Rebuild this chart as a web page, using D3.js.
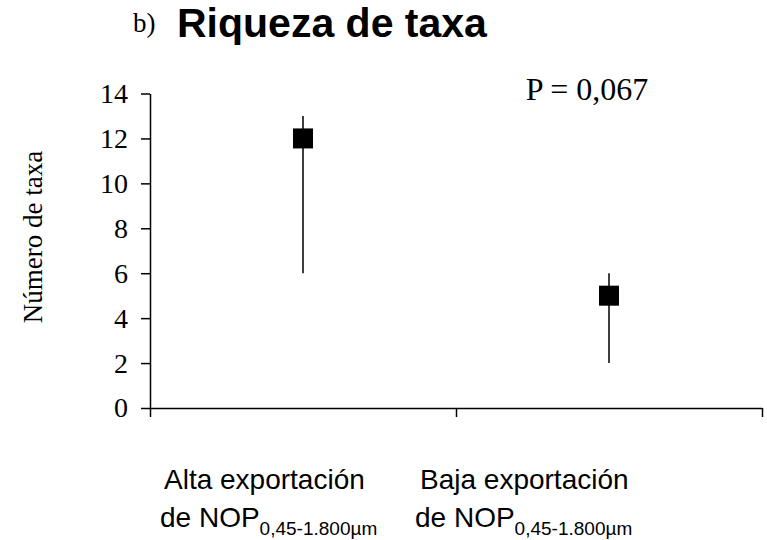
<!DOCTYPE html>
<html>
<head>
<meta charset="utf-8">
<script src="https://cdn.jsdelivr.net/npm/d3@7"></script>
<style>
  body { margin: 0; background: #fff; }
  svg { display: block; }
</style>
</head>
<body>
<div id="chart"></div>
<script>
// Riqueza de taxa: mean with range per export group
const categories = ['Alta', 'Baja'];
const means = [12, 5];
const lows = [6, 2];
const highs = [13, 6];
const yTicks = [0, 2, 4, 6, 8, 10, 12, 14];

const W = 767, H = 540;
const margin = { top: 93.5, right: 5, bottom: 132, left: 150 };
const w = 762 - margin.left;
const h = 408 - margin.top;

const serif = '"Liberation Serif","Times New Roman",serif';
const sans = '"Liberation Sans",Arial,sans-serif';

const svg = d3.select('#chart').append('svg')
  .attr('width', W).attr('height', H);

const g = svg.append('g')
  .attr('transform', `translate(${margin.left},${margin.top})`);

const xScale = d3.scaleLinear().domain([0, categories.length]).range([0, w]);
const yScale = d3.scaleLinear().domain([0, 14]).range([h, 0]);

// Axes
g.append('g')
  .attr('transform', `translate(0,${h})`)
  .call(d3.axisBottom(xScale).tickValues(d3.range(categories.length + 1)).tickSize(9).tickSizeOuter(0).tickFormat(''))
  .call(a => a.selectAll('path,line').attr('stroke', '#000').attr('stroke-width', 1.5));

g.append('g')
  .call(d3.axisLeft(yScale).tickValues(yTicks).tickSize(9).tickSizeOuter(0).tickPadding(13))
  .call(a => a.selectAll('path,line').attr('stroke', '#000').attr('stroke-width', 1.5))
  .call(a => a.selectAll('text')
    .style('font-family', serif)
    .style('font-size', '28px').attr('fill', '#000'));

// Error bars
g.selectAll('.err')
  .data(categories)
  .join('line')
  .attr('class', 'err')
  .attr('x1', (d, i) => xScale(i + 0.5)).attr('x2', (d, i) => xScale(i + 0.5))
  .attr('y1', (d, i) => yScale(lows[i])).attr('y2', (d, i) => yScale(highs[i]))
  .attr('stroke', '#000').attr('stroke-width', 1.5);

// Markers
const ms = 20;
g.selectAll('.mk')
  .data(categories)
  .join('rect')
  .attr('class', 'mk')
  .attr('x', (d, i) => xScale(i + 0.5) - ms / 2)
  .attr('y', (d, i) => yScale(means[i]) - ms / 2)
  .attr('width', ms).attr('height', ms)
  .attr('fill', '#000');

// Title
svg.append('text')
  .attr('x', 133).attr('y', 32)
  .style('font-family', serif)
  .style('font-size', '27px')
  .text('b)');
svg.append('text')
  .attr('x', 177).attr('y', 37)
  .style('font-family', sans)
  .style('font-size', '41px').style('font-weight', 'bold')
  .text('Riqueza de taxa');

// P value
svg.append('text')
  .attr('x', 587).attr('y', 100)
  .attr('text-anchor', 'middle')
  .style('font-family', serif)
  .style('font-size', '32px')
  .text('P = 0,067');

// Y label
svg.append('text')
  .attr('transform', 'rotate(-90)')
  .attr('x', -237).attr('y', 42)
  .attr('text-anchor', 'middle')
  .style('font-family', serif)
  .style('font-size', '27px')
  .text('Número de taxa');

// Category labels
const catLabels = [
  { first: 'Alta exportación', x1: 164, x2: 160 },
  { first: 'Baja exportación', x1: 420, x2: 415 }
];
catLabels.forEach(c => {
  svg.append('text')
    .attr('x', c.x1).attr('y', 489)
    .style('font-family', sans)
    .style('font-size', '28px')
    .text(c.first);
  const l2 = svg.append('text')
    .attr('x', c.x2).attr('y', 527)
    .style('font-family', sans)
    .style('font-size', '28px');
  l2.append('tspan').text('de NOP');
  l2.append('tspan').attr('dy', 8).style('font-size', '19px').text('0,45-1.800µm');
});
</script>
</body>
</html>
